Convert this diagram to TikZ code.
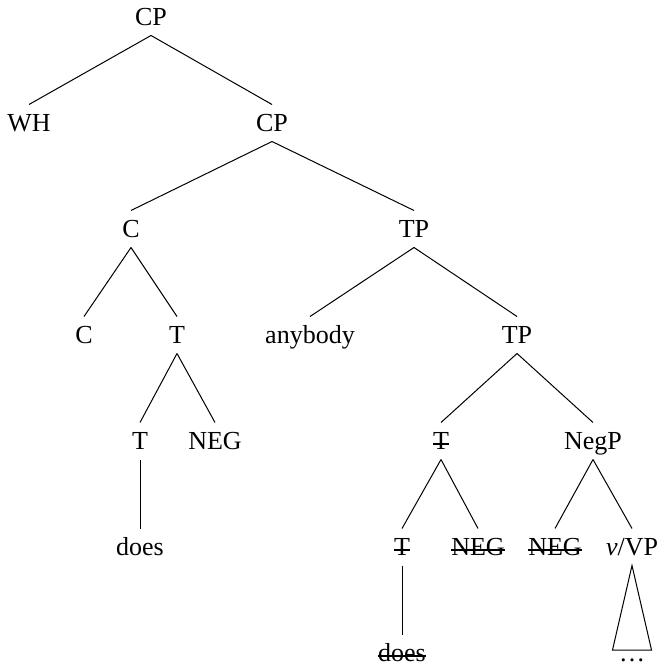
\documentclass[tikz,border=0pt]{standalone}
\usepackage{fontspec}
\setmainfont{Liberation Serif}
\newsavebox{\delbox}
\newcommand{\del}[1]{\sbox{\delbox}{#1}\rlap{\rule[2.4pt]{\wd\delbox}{0.7pt}}\usebox{\delbox}}

\begin{document}
\begin{tikzpicture}[x=0.5pt, y=-0.5pt, line width=0.5pt,
    lab/.style={inner xsep=2pt, inner ysep=4.7pt, text height=8.6pt, text depth=0pt,
        font=\fontsize{13}{15.6}\selectfont}]
    \useasboundingbox (0, 0) rectangle (659, 663);

    \node[lab] (cp1) at (151, 17) {CP};
    \node[lab] (wh) at (29, 123) {WH};
    \node[lab] (cp2) at (272, 123) {CP};
    \node[lab] (c1) at (131, 229) {C};
    \node[lab] (tp1) at (414, 229) {TP};
    \node[lab] (c2) at (84, 335) {C};
    \node[lab] (t1) at (177, 335) {T};
    \node[lab] (anybody) at (310, 335) {anybody};
    \node[lab] (tp2) at (517, 335) {TP};
    \node[lab] (t2) at (140, 441) {T};
    \node[lab] (neg1) at (215, 441) {NEG};
    \node[lab] (t3) at (441, 441) {\del{T}};
    \node[lab] (negp) at (593, 441) {NegP};
    \node[lab] (does1) at (140, 547) {does};
    \node[lab] (t4) at (402, 547) {\del{T}};
    \node[lab] (neg2) at (478, 547) {\del{NEG}};
    \node[lab] (neg3) at (555, 547) {\del{NEG}};
    \node[lab] (vvp) at (632, 547) {\textit{v}/VP};
    \node[lab] (does2) at (402, 653) {\del{does}};
    \node[lab] (dots) at (632, 653) {\dots};

    % roof over the elided VP
    \coordinate (roofl) at ([shift={(-19.5, -3)}]dots.center);
    \coordinate (roofr) at ([shift={(19.5, -3)}]dots.center);

    \draw (cp1.south) to (wh.north);
    \draw (cp1.south) to (cp2.north);
    \draw (cp2.south) to (c1.north);
    \draw (cp2.south) to (tp1.north);
    \draw (c1.south) to (c2.north);
    \draw (c1.south) to (t1.north);
    \draw (t1.south) to (t2.north);
    \draw (t1.south) to (neg1.north);
    \draw (t2.south) to (does1.north);
    \draw (tp1.south) to (anybody.north);
    \draw (tp1.south) to (tp2.north);
    \draw (tp2.south) to (t3.north);
    \draw (tp2.south) to (negp.north);
    \draw (t3.south) to (t4.north);
    \draw (t3.south) to (neg2.north);
    \draw (t4.south) to (does2.north);
    \draw (negp.south) to (neg3.north);
    \draw (negp.south) to (vvp.north);
    \draw (vvp.south) -- (roofl) -- (roofr) -- cycle;
\end{tikzpicture}
\end{document}
